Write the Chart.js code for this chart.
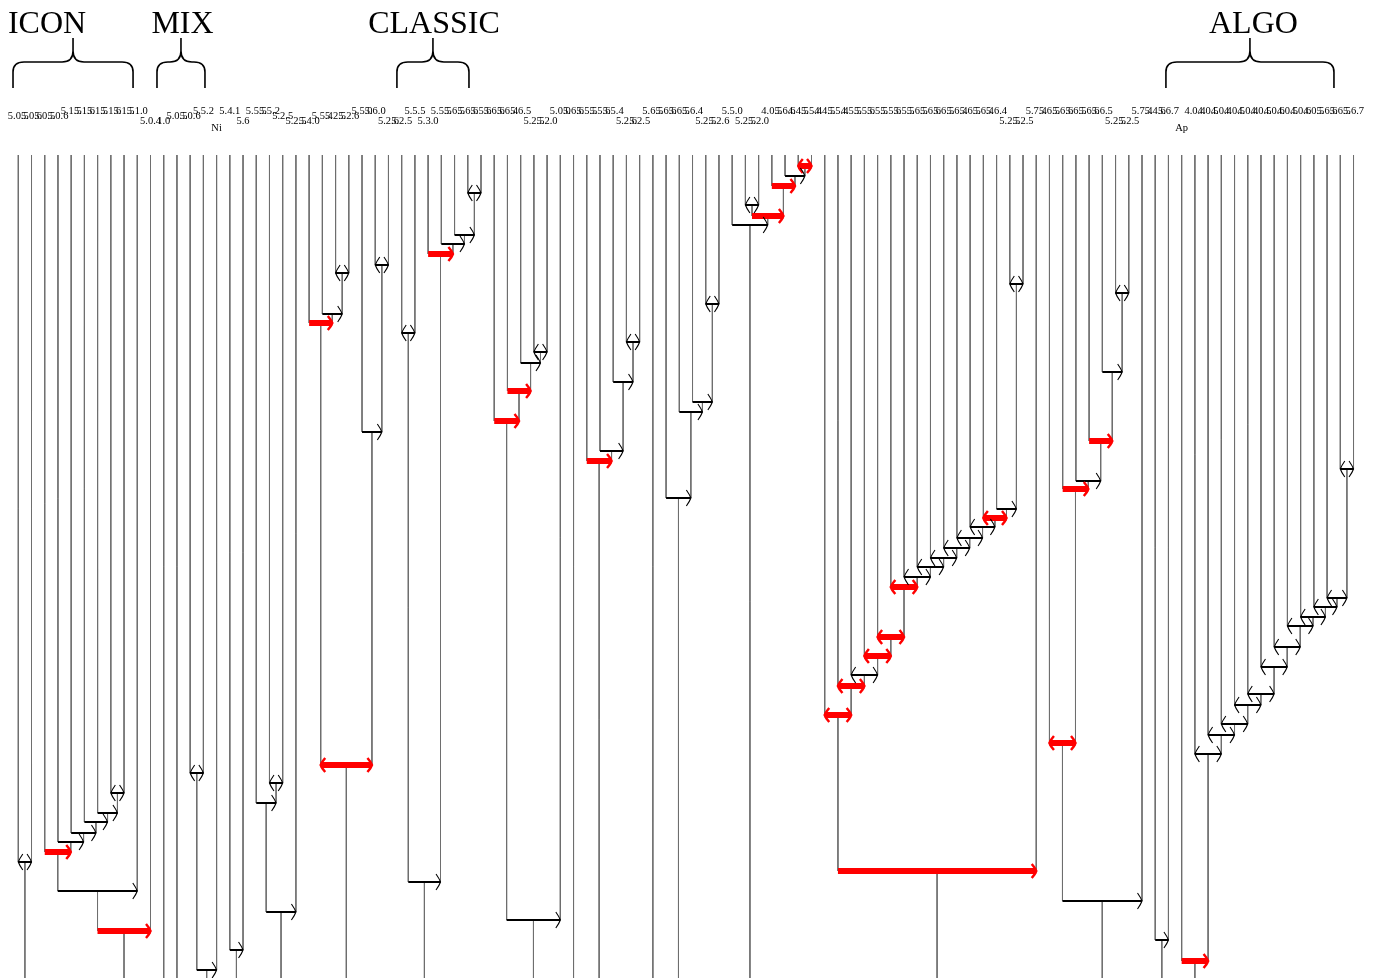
<!DOCTYPE html>
<html><head><meta charset="utf-8">
<script src="https://cdn.jsdelivr.net/npm/chart.js@4.4.1/dist/chart.umd.min.js"></script>
<style>html,body{margin:0;padding:0;background:#fff;}#wrap{position:relative;width:1381px;height:978px;}</style>
</head><body><div id="wrap"><canvas id="c"></canvas></div>
<script>
// ---- leaves (categories) ----
const leafLabels = ["5.0.5","5.0.6","5.0.5","5.0.6","5.1.5","5.1.6","5.1.5","5.1.6","5.1.5","5.1.0",
 "5.0.4","1.0","5.0.5","5.0.6","5.5.2","Ni","5.4.1","5.6","5.5.5","5.5.2",
 "5.2.5","5.2.5","5.4.0","5.5.4","5.2.5","5.2.6","5.5.0","5.6.0","5.2.6","5.2.5",
 "5.5.5","5.3.0","5.5.5","5.6.5","5.6.6","5.5.6","5.6.6","5.6.4","5.6.5","5.2.5",
 "5.2.0","5.0.0","5.6.6","5.5.5","5.5.6","5.5.4","5.2.6","5.2.5","5.6.5","5.6.6",
 "5.6.5","5.6.4","5.2.5","5.2.6","5.5.0","5.2.5","5.2.0","4.0.5","5.6.6","4.4.5",
 "5.5.4","4.4.5","5.5.4","4.5.5","5.5.6","5.5.5","5.5.6","5.5.5","5.6.5","5.6.6",
 "5.6.5","5.6.4","5.6.5","5.6.4","5.6.4","5.2.5","5.2.5","5.7.4","5.6.5","5.6.6",
 "5.6.5","5.6.6","5.6.5","5.2.5","5.2.5","5.7.4","5.4.6","5.6.7","Ap","4.0.4",
 "4.0.5","4.0.4","4.0.5","4.0.4","4.0.5","4.0.6","4.0.5","4.0.6","4.0.5","5.6.6",
 "5.6.5","5.6.7"];

// ---- groups (in leaf-index units) ----
const groupNames = ["ICON","MIX","CLASSIC","ALGO"];
const groupFrom = [-0.40, 10.49, 28.64, 86.81];
const groupTo = [8.68, 14.12, 34.09, 99.52];
const groupLabelAt = [2.17, 12.42, 31.44, 93.43];

// ---- merges: L# = leaf, N# = result of merge # ----
const mergeLeft = ["L0","L7","L6","L5","L4","L3","L2","N6","N7","L13",
 "N9","L16","L19","L18","N13","L24","L23","L22","L27","L26",
 "N17","L29","L34","L33","L32","L31","N21","L39","L38","L37",
 "L36","N30","L46","L45","L44","L43","L52","L51","L50","L49",
 "L55","L59","L58","L57","N40","L54","L75","L74","L73","L72",
 "L71","L70","L69","L68","L67","L66","L65","L64","L63","L62",
 "L61","N60","L83","L82","L81","L80","L79","L78","N67","L86",
 "L100","L99","L98","L97","L96","L95","L94","L93","L92","L91",
 "L90","L89","L88"];
const mergeRight = ["L1","L8","N1","N2","N3","N4","N5","L9","L10","L14",
 "L15","L17","L20","N12","L21","L25","N15","N16","L28","N18",
 "N19","L30","L35","N22","N23","N24","N25","L40","N27","N28",
 "N29","L41","L47","N32","N33","N34","L53","N36","N37","N38",
 "L56","L60","N41","N42","N43","N44","L76","N46","N47","N48",
 "N49","N50","N51","N52","N53","N54","N55","N56","N57","N58",
 "N59","L77","L84","N62","N63","N64","N65","N66","L85","L87",
 "L101","N70","N71","N72","N73","N74","N75","N76","N77","N78",
 "N79","N80","N81"];
const mergeHeight = [7.07,6.38,6.58,6.67,6.78,6.87,6.97,7.36,7.76,6.18,
 8.15,7.95,6.28,6.48,7.57,1.18,1.59,1.68,1.10,2.77,
 6.10,1.78,0.38,0.80,0.89,0.99,7.27,1.97,2.08,2.36,
 2.66,7.65,1.87,2.27,2.96,3.06,1.49,2.47,2.57,3.43,
 0.50,0.11,0.21,0.31,0.61,0.70,1.29,3.54,3.63,3.72,
 3.83,3.93,4.03,4.12,4.22,4.32,4.82,5.01,5.20,5.31,
 5.60,7.16,1.38,2.17,2.86,3.26,3.34,5.88,7.46,7.85,
 3.14,4.43,4.52,4.62,4.71,4.92,5.12,5.39,5.50,5.69,
 5.80,5.99,8.06];
const B = "both", R = "right";
const mergeKind = [B,B,R,R,R,R,R,R,R,B,
 R,R,B,R,R,B,R,R,B,R,
 B,B,B,R,R,R,R,B,R,R,
 R,R,B,R,R,R,B,R,R,R,
 B,B,R,R,R,R,B,R,B,B,
 B,B,B,B,B,B,B,B,B,B,
 B,R,B,R,R,R,R,B,R,R,
 B,B,B,B,B,B,B,B,B,B,
 B,B,R];
const mergeSignificant = [0,0,0,0,0,0,1,0,1,0,
 0,0,0,0,0,0,0,1,0,0,
 1,0,0,0,0,1,0,0,0,1,
 1,0,0,0,0,1,0,0,0,0,
 0,1,0,1,1,0,0,0,1,0,
 0,0,0,0,0,1,1,1,0,1,
 1,1,0,0,1,0,1,1,0,0,
 0,0,0,0,0,0,0,0,0,0,
 0,0,1];

// ---- build geometry in data units ----
const yTop = -1.55, yBottom = 8.23;
const nodeX = [], nodeH = [];
function refX(r){ const i = +r.slice(1); return r[0]==="L" ? i : nodeX[i]; }
function refH(r){ const i = +r.slice(1); return r[0]==="L" ? 0 : nodeH[i]; }
mergeLeft.forEach((l,i)=>{ nodeX[i]=(refX(l)+refX(mergeRight[i]))/2; nodeH[i]=mergeHeight[i]; });
const parentH = {};
mergeLeft.forEach((l,i)=>{ parentH[l]=mergeHeight[i]; parentH[mergeRight[i]]=mergeHeight[i]; });
const vertData = [];
function addVert(ref){
  const x = refX(ref), h0 = refH(ref);
  const h1 = (ref in parentH) ? parentH[ref] : yBottom;
  vertData.push({x:x,y:h0},{x:x,y:h1},{x:x,y:null});
}
leafLabels.forEach((_,i)=>addVert("L"+i));
mergeLeft.forEach((_,i)=>addVert("N"+i));
const blackBars = [], redBars = [];
mergeLeft.forEach((l,i)=>{
  const arr = mergeSignificant[i] ? redBars : blackBars;
  arr.push({x:refX(l),y:mergeHeight[i]},{x:refX(mergeRight[i]),y:mergeHeight[i]},{x:refX(l),y:null});
});

const labelLevel = [1,1,1,1,0,0,0,0,0,0, 2,2,1,1,0,3,0,2,0,0, 1,2,2,1,1,1,0,0,2,2,
 0,2,0,0,0,0,0,0,0,2, 2,0,0,0,0,0,2,2,0,0, 0,0,2,2,0,2,2,0,0,0,
 0,0,0,0,0,0,0,0,0,0, 0,0,0,0,0,2,2,0,0,0, 0,0,0,2,2,0,0,0,3,0,
 0,0,0,0,0,0,0,0,0,0, 0,0];

const decor = {
  id:'decor',
  afterDatasetsDraw(chart){
    const ctx = chart.ctx, xs = chart.scales.x, ys = chart.scales.y;
    ctx.save();
    function chev(x,y,dir,red){
      const hh = red?7:8, d = 4.5;
      ctx.beginPath();
      ctx.moveTo(x-dir*d, y-hh);
      ctx.quadraticCurveTo(x-dir*1, y-3, x, y);
      ctx.quadraticCurveTo(x-dir*1, y+3, x-dir*d, y+hh);
      ctx.strokeStyle = red ? '#ff0000' : '#000';
      ctx.lineWidth = red ? 2.5 : 1.1;
      ctx.stroke();
    }
    mergeLeft.forEach((l,i)=>{
      const y = ys.getPixelForValue(mergeHeight[i]);
      const xl = xs.getPixelForValue(refX(l)), xr = xs.getPixelForValue(refX(mergeRight[i]));
      const red = !!mergeSignificant[i];
      chev(xr, y, 1, red);
      if (mergeKind[i]===B) chev(xl, y, -1, red);
    });
    // leaf labels
    ctx.fillStyle = '#000';
    ctx.font = "10.5px 'Liberation Serif'";
    ctx.textAlign = 'center';
    ctx.textBaseline = 'alphabetic';
    const base = [114,119,124,131];
    leafLabels.forEach((t,i)=>{
      ctx.fillText(t, xs.getPixelForValue(i), base[labelLevel[i]]);
    });
    // group labels and braces
    ctx.font = "32px 'Liberation Serif'";
    groupNames.forEach((g,i)=>{
      ctx.fillText(g, xs.getPixelForValue(groupLabelAt[i]), 33);
      const xl = xs.getPixelForValue(groupFrom[i]), xr = xs.getPixelForValue(groupTo[i]);
      const xm = (xl+xr)/2, yb = 62, ye = 88, yt = 38, r = 11;
      ctx.beginPath();
      ctx.moveTo(xl, ye);
      ctx.lineTo(xl, yb+10);
      ctx.quadraticCurveTo(xl, yb, xl+r, yb);
      ctx.lineTo(xm-r, yb);
      ctx.quadraticCurveTo(xm, yb, xm, yb-r);
      ctx.lineTo(xm, yt);
      ctx.moveTo(xm, yb-r);
      ctx.quadraticCurveTo(xm, yb, xm+r, yb);
      ctx.lineTo(xr-r, yb);
      ctx.quadraticCurveTo(xr, yb, xr, yb+10);
      ctx.lineTo(xr, ye);
      ctx.strokeStyle = '#000';
      ctx.lineWidth = 1.6;
      ctx.stroke();
    });
    ctx.restore();
  }
};

const pxPerLeaf = 13.22, firstLeafPx = 18.3, width = 1381;
const xMin = -firstLeafPx/pxPerLeaf, xMax = xMin + width/pxPerLeaf;

new Chart(document.getElementById('c'), {
  type:'scatter',
  data:{datasets:[
    {data:redBars, showLine:true, spanGaps:false, borderColor:'#ff0000', borderWidth:6, pointRadius:0, borderCapStyle:'butt'},
    {data:blackBars, showLine:true, spanGaps:false, borderColor:'#000', borderWidth:2, pointRadius:0, borderCapStyle:'butt'},
    {data:vertData, showLine:true, spanGaps:false, borderColor:'#6e6e6e', borderWidth:1, pointRadius:0, borderCapStyle:'butt'}
  ]},
  options:{
    responsive:true, maintainAspectRatio:false, animation:false,
    layout:{padding:0},
    plugins:{legend:{display:false}, tooltip:{enabled:false}},
    events:[],
    scales:{
      x:{type:'linear', min:xMin, max:xMax, display:false},
      y:{type:'linear', reverse:true, min:yTop, max:yBottom, display:false}
    }
  },
  plugins:[decor]
});
</script></body></html>
